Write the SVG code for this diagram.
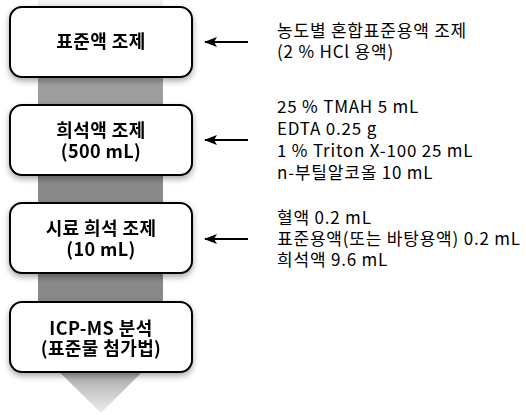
<svg xmlns="http://www.w3.org/2000/svg" width="526" height="415" viewBox="0 0 526 415">
<style>
.box{fill:#fff;stroke:#000;stroke-width:2}
.bt{font-family:"Noto Sans CJK KR","Noto Sans",sans-serif;font-size:18px;font-weight:bold;fill:#000;text-anchor:middle;letter-spacing:0.4px}
.rt{font-family:"Noto Sans CJK KR","Noto Sans",sans-serif;font-size:17px;fill:#000;letter-spacing:0.8px}
.arr{stroke:#000;stroke-width:2;fill:none;marker-end:url(#ah)}
</style>
<defs>
<linearGradient id="band" x1="0" y1="0" x2="0" y2="1">
<stop offset="0" stop-color="#f4f4f4"/>
<stop offset="0.2" stop-color="#a0a0a0"/>
<stop offset="0.4" stop-color="#8a8a8a"/>
<stop offset="0.8" stop-color="#888"/>
<stop offset="0.88" stop-color="#999"/>
<stop offset="1" stop-color="#eee"/>
</linearGradient>
<filter id="sh" x="-10%" y="-10%" width="130%" height="140%">
<feGaussianBlur in="SourceAlpha" stdDeviation="3"/>
<feOffset dx="0" dy="3" result="b"/>
<feComponentTransfer><feFuncA type="linear" slope="0.35"/></feComponentTransfer>
<feMerge><feMergeNode/><feMergeNode in="SourceGraphic"/></feMerge>
</filter>
<marker id="ah" viewBox="0 0 13 10" refX="12" refY="5" markerWidth="13" markerHeight="10" markerUnits="userSpaceOnUse" orient="auto">
<path d="M0,0 L13,5 L0,10 L3,5 Z" fill="#000"/>
</marker>
</defs>
<g id="band-arrow">
<path d="M38,0 H163 V351 L101,413 L38,351 Z" fill="url(#band)"/>
</g>
<g id="connectors">
<line class="arr" x1="248" y1="42" x2="205" y2="42"/>
<line class="arr" x1="248" y1="140" x2="205" y2="140"/>
<line class="arr" x1="248" y1="239" x2="205" y2="239"/>
</g>
<g id="n1" filter="url(#sh)">
<rect class="box" x="10" y="7" width="182" height="70" rx="12"/>
<text class="bt" x="101" y="48">표준액 조제</text>
</g>
<g id="n2" filter="url(#sh)">
<rect class="box" x="10" y="105" width="182" height="70" rx="12"/>
<text class="bt"><tspan x="101" y="137">희석액 조제</tspan><tspan x="101" y="158">(500 mL)</tspan></text>
</g>
<g id="n3" filter="url(#sh)">
<rect class="box" x="10" y="203" width="182" height="70" rx="12"/>
<text class="bt"><tspan x="101" y="235">시료 희석 조제</tspan><tspan x="101" y="256">(10 mL)</tspan></text>
</g>
<g id="n4" filter="url(#sh)">
<rect class="box" x="10" y="302" width="182" height="70" rx="12"/>
<text class="bt"><tspan x="101" y="335">ICP-MS 분석</tspan><tspan x="101" y="355">(표준물 첨가법)</tspan></text>
</g>
<g id="t1">
<text class="rt"><tspan x="277" y="37">농도별 혼합표준용액 조제</tspan><tspan x="277" y="58">(2 % HCl 용액)</tspan></text>
</g>
<g id="t2">
<text class="rt"><tspan x="277" y="113">25 % TMAH 5 mL</tspan><tspan x="277" y="135">EDTA 0.25 g</tspan><tspan x="277" y="157">1 % Triton X-100 25 mL</tspan><tspan x="277" y="179">n-부틸알코올 10 mL</tspan></text>
</g>
<g id="t3">
<text class="rt"><tspan x="277" y="224">혈액 0.2 mL</tspan><tspan x="277" y="245">표준용액(또는 바탕용액) 0.2 mL</tspan><tspan x="277" y="266">희석액 9.6 mL</tspan></text>
</g>
</svg>
